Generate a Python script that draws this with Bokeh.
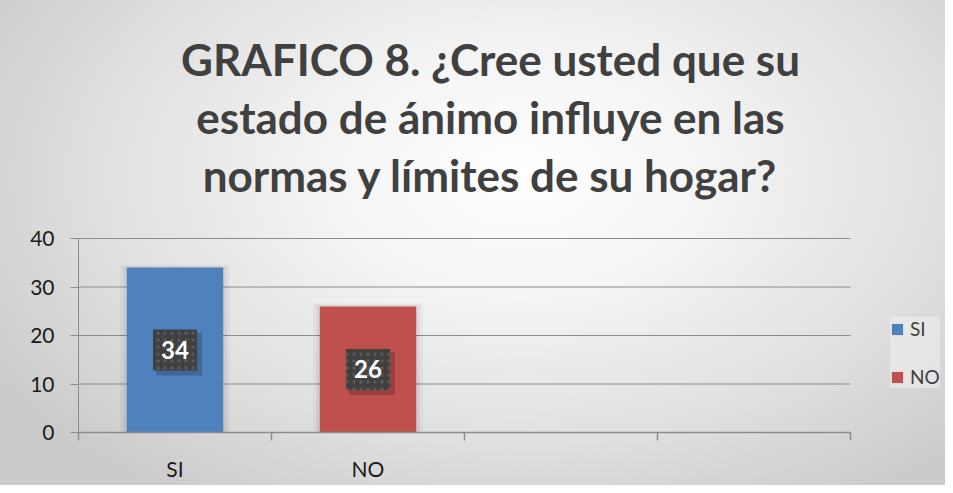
from bokeh.plotting import figure
from bokeh.models import Range1d, FixedTicker, Label, Legend, LegendItem, ColumnDataSource
from bokeh.core.properties import value
from bokeh.embed import file_html
from bokeh.resources import INLINE

# ---- data ----
categories = ["SI", "NO"]
values = [34, 26]
colors = ["#4F81BD", "#C0504D"]
y_ticks = [0, 10, 20, 30, 40]
title_lines = ["GRAFICO 8. ¿Cree usted que su",
               "estado de ánimo influye en las",
               "normas y límites de su hogar?"]

n_slots = 4
y_max = 40
FONT = "Lato"

xs = [i + 0.5 for i in range(len(categories))]
half = [v / 2 for v in values]
labels = [str(v) for v in values]

# pixel layout: plot area of the axes (left, right, top, bottom)
W, H = 945, 485
PL, PR, PT, PB = 78, 850, 238, 432
px_x = (PR - PL) / n_slots
px_y = (PB - PT) / y_max

# the frame fills the whole figure to the right and top, so texts are not clipped
x_end = (W - PL) / px_x
y_end = PB / px_y

p = figure(width=W, height=H, output_backend="svg", toolbar_location=None,
           x_range=Range1d(0, x_end), y_range=Range1d(0, y_end),
           min_border_left=PL, min_border_right=0, min_border_top=0, min_border_bottom=H - PB)
p.background_fill_alpha = 0
p.border_fill_alpha = 0
p.outline_line_color = None
p.styles = {"background": "radial-gradient(ellipse 65% 80% at 55% 36%, #ffffff 0%, #f5f5f5 30%, #dfdfdf 70%, #cbcbcb 100%)"}

# gridlines (drawn only across the category slots)
p.xgrid.grid_line_color = None
p.ygrid.grid_line_color = None
p.segment(x0=[0] * len(y_ticks), x1=[n_slots] * len(y_ticks), y0=y_ticks, y1=y_ticks,
          line_color="#8c8c8c", line_width=1.2)

# bar glow
p.vbar(x=xs, top=[v + 0.6 for v in values], width=0.57, color="#000000", alpha=0.035, line_color=None)
p.vbar(x=xs, top=[v + 0.3 for v in values], width=0.535, color="#000000", alpha=0.05, line_color=None)

src = ColumnDataSource(dict(x=xs, top=values, color=colors, cat=categories, half=half, lab=labels))
bars = p.vbar(x="x", top="top", width=0.5, color="color", line_color=None, source=src)

# data label boxes with shadow
dx = 4 / px_x
dy = 4 / px_y
p.rect(x=[x + dx for x in xs], y=[h - dy for h in half], width=46, height=43,
       width_units="screen", height_units="screen", fill_color="#000000", fill_alpha=0.2, line_color=None)
p.rect(x="x", y="half", width=44, height=41, width_units="screen", height_units="screen",
       fill_color="#404040", line_color=None, hatch_pattern="dot", hatch_color="#5a5a5a",
       hatch_scale=7, hatch_weight=1.5, source=src)
p.text(x="x", y="half", text="lab", text_color="white", text_font=value(FONT),
       text_font_style="bold", text_font_size="24px", text_align="center", text_baseline="middle",
       source=src)

# axes
p.yaxis.ticker = FixedTicker(ticks=y_ticks)
p.yaxis.bounds = (0, y_max)
p.yaxis.axis_line_color = "#8c8c8c"
p.yaxis.major_tick_line_color = "#8c8c8c"
p.yaxis.major_tick_out = 8
p.yaxis.major_tick_in = 0
p.yaxis.minor_tick_line_color = None
p.yaxis.major_label_text_font = FONT
p.yaxis.major_label_text_font_size = "21px"
p.yaxis.major_label_text_color = "#1a1a1a"
p.yaxis.major_label_standoff = 16

p.xaxis.ticker = FixedTicker(ticks=xs, minor_ticks=list(range(n_slots + 1)))
p.xaxis.bounds = (0, n_slots)
p.xaxis.major_label_overrides = {x: c for x, c in zip(xs, categories)}
p.xaxis.axis_line_color = "#8c8c8c"
p.xaxis.axis_line_width = 1.5
p.xaxis.major_tick_line_color = None
p.xaxis.major_tick_out = 0
p.xaxis.major_tick_in = 0
p.xaxis.minor_tick_line_color = "#8c8c8c"
p.xaxis.minor_tick_out = 8
p.xaxis.minor_tick_in = 0
p.xaxis.minor_tick_line_width = 1.5
p.xaxis.major_label_text_font = FONT
p.xaxis.major_label_text_font_size = "21px"
p.xaxis.major_label_text_color = "#1a1a1a"
p.xaxis.major_label_standoff = 15

# title (screen units, measured from the frame's bottom-left)
baselines = [PB - 58, PB - 116, PB - 174]
for line, b in zip(title_lines, baselines):
    p.add_layout(Label(x=490 - PL, y=b, x_units="screen", y_units="screen", text=line,
                       text_font=FONT, text_font_style="bold", text_font_size="44px",
                       text_color="#404040", text_align="center", text_baseline="alphabetic"))

# legend
items = [LegendItem(label=c, renderers=[bars], index=i) for i, c in enumerate(categories)]
legend = Legend(items=items, location=(890 - PL, PB - 388), orientation="vertical",
                glyph_width=14, glyph_height=14, label_height=20, label_standoff=6,
                spacing=25, padding=12, margin=0,
                label_text_font=FONT, label_text_font_size="19px", label_text_color="#404040",
                background_fill_color="#f0f0f0", background_fill_alpha=0.55, border_line_color=None)
p.add_layout(legend, "center")

open("out.html", "w").write(file_html(p, INLINE))
